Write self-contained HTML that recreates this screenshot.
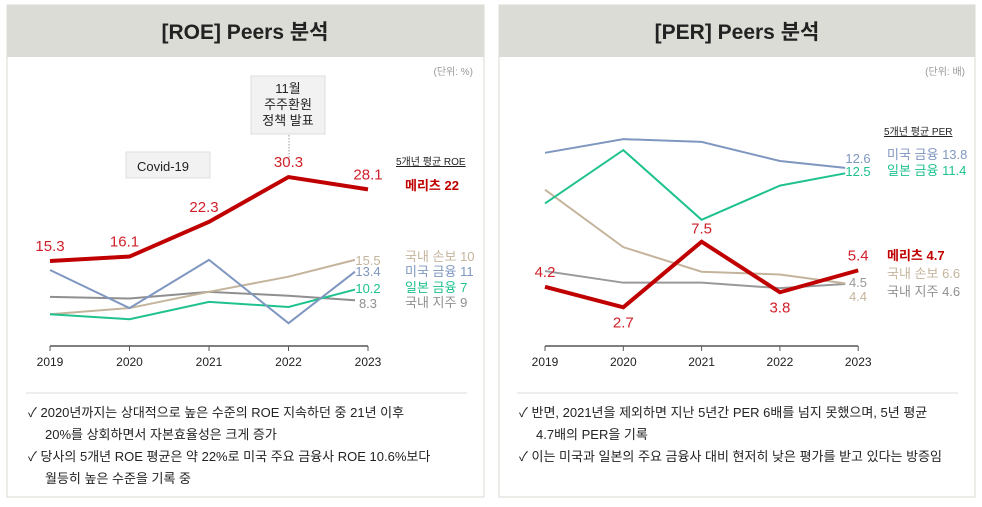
<!DOCTYPE html>
<html><head><meta charset="utf-8"><style>
body{margin:0;background:#fff;width:982px;height:502px;overflow:hidden;font-family:"Liberation Sans","Noto Sans CJK KR",sans-serif}
svg text{font-family:"Liberation Sans","Noto Sans CJK KR",sans-serif}
</style></head><body>
<svg id="c" width="982" height="502" viewBox="0 0 982 502" xmlns="http://www.w3.org/2000/svg">
<g>
<rect x="7" y="5" width="477" height="492" fill="#fff" stroke="#d8d8d2"/>
<rect x="7" y="5" width="477" height="52" fill="#dcdcd6"/>
<text x="245" y="39" text-anchor="middle" font-size="21" font-weight="bold" fill="#222">[ROE] Peers 분석</text>
<text x="473" y="75" text-anchor="end" font-size="10" fill="#999">(단위: %)</text>
<rect x="251" y="76" width="74" height="58" fill="#f2f2f2" stroke="#ddd"/>
<text x="288" y="93" text-anchor="middle" font-size="13" fill="#222">11월</text>
<text x="288" y="109" text-anchor="middle" font-size="13" fill="#222">주주환원</text>
<text x="288" y="125" text-anchor="middle" font-size="13" fill="#222">정책 발표</text>
<line x1="289" y1="135" x2="289" y2="163" stroke="#999" stroke-dasharray="1.5,1.5"/>
<rect x="126" y="152" width="84" height="26" fill="#f2f2f2" stroke="#ddd"/>
<text x="163" y="171" text-anchor="middle" font-size="13" fill="#222">Covid-19</text>
<text x="396" y="165" font-size="10" fill="#222" text-decoration="underline">5개년 평균 ROE</text>
<g id="roe"></g>
<line x1="26" y1="393" x2="467" y2="393" stroke="#ddd"/>
<g font-size="13" fill="#222">
<text x="28" y="417">✓ 2020년까지는 상대적으로 높은 수준의 ROE 지속하던 중 21년 이후</text>
<text x="45" y="439">20%를 상회하면서 자본효율성은 크게 증가</text>
<text x="28" y="461">✓ 당사의 5개년 ROE 평균은 약 22%로 미국 주요 금융사 ROE 10.6%보다</text>
<text x="45" y="483">월등히 높은 수준을 기록 중</text>
</g>
</g>
<g>
<rect x="499" y="5" width="476" height="492" fill="#fff" stroke="#d8d8d2"/>
<rect x="499" y="5" width="476" height="52" fill="#dcdcd6"/>
<text x="737" y="39" text-anchor="middle" font-size="21" font-weight="bold" fill="#222">[PER] Peers 분석</text>
<text x="965" y="75" text-anchor="end" font-size="10" fill="#999">(단위: 배)</text>
<text x="884" y="135" font-size="10" fill="#222" text-decoration="underline">5개년 평균 PER</text>
<g id="per"></g>
<line x1="517" y1="393" x2="958" y2="393" stroke="#ddd"/>
<g font-size="13" fill="#222">
<text x="519" y="417">✓ 반면, 2021년을 제외하면 지난 5년간 PER 6배를 넘지 못했으며, 5년 평균</text>
<text x="536" y="439">4.7배의 PER을 기록</text>
<text x="519" y="461">✓ 이는 미국과 일본의 주요 금융사 대비 현저히 낮은 평가를 받고 있다는 방증임</text>
</g>
</g>
</svg>
<script>
const years=["2019","2020","2021","2022","2023"];
// ROE
const roeMeritz=[15.3,16.1,22.3,30.3,28.1];
const roeKrIns=[5.8,6.9,9.8,12.5,15.5];
const roeUs=[13.7,6.9,15.5,4.2,13.4];
const roeJp=[5.8,4.9,8.0,7.1,10.2];
const roeKrHold=[8.9,8.6,9.8,9.1,8.3];
const roeLegend=["메리츠 22","국내 손보 10","미국 금융 11","일본 금융 7","국내 지주 9"];
// PER
const perMeritz=[4.2,2.7,7.5,3.8,5.4];
const perUs=[14.0,15.0,14.8,13.4,12.9];
const perJp=[10.3,14.2,9.1,11.6,12.5];
const perKrIns=[11.3,7.1,5.3,5.1,4.45];
const perKrHold=[5.35,4.5,4.5,4.1,4.4];
const perEndLabels=["5.4","12.6","12.5","4.4","4.5"];
const perLegend=["메리츠 4.7","미국 금융 13.8","일본 금융 11.4","국내 손보 6.6","국내 지주 4.6"];
const NS="http://www.w3.org/2000/svg";
function mk(p,t,a,txt){const e=document.createElementNS(NS,t);for(const k in a)e.setAttribute(k,a[k]);if(txt!==undefined)e.textContent=txt;p.appendChild(e);return e;}
const RED="#c00000",BLUE="#7f97c0",GREEN="#1fc28f",BEIGE="#c4b49c",GRAY="#8f8f8f";
function chart(g,x0,dx,y0,k,series,base){
  const X=i=>x0+i*dx, Y=v=>y0-v*k;
  const ax=mk(g,'line',{x1:X(0),x2:X(4),y1:base,y2:base,stroke:'#555','stroke-width':1.5});
  
  
  years.forEach((y,i)=>{
    const t=mk(g,'line',{x1:X(i),x2:X(i),y1:base,y2:base+5,stroke:'#555'});
    
    
    const l=mk(g,'text',{x:X(i),y:base+20,'text-anchor':'middle','font-size':12,fill:'#222'},y);
    
    
  });
  series.forEach(s=>{
    const xs=i=>(s.w<3&&i===4)?X(i)-13:X(i);
    const p=mk(g,'polyline',{points:s.v.map((v,i)=>xs(i)+','+Y(v)).join(' '),fill:'none',stroke:s.c,'stroke-width':s.w});
    
    
  });
  return {X,Y};
}
// ROE chart
(function(){
  const g=document.getElementById('roe');
  const s=[{v:roeKrHold,c:GRAY,w:2,n:'roe-kr-holding'},{v:roeKrIns,c:BEIGE,w:2,n:'roe-kr-insurance'},{v:roeJp,c:GREEN,w:2,n:'roe-jp-finance'},{v:roeUs,c:BLUE,w:2,n:'roe-us-finance'},{v:roeMeritz,c:RED,w:4,n:'roe-meritz'}];
  const {X,Y}=chart(g,50,79.5,346.7,5.6,s,346);
  const offs=[[0,-10],[-5,-10],[-5,-10],[0,-10],[0,-10]];
  roeMeritz.forEach((v,i)=>{
    const t=mk(g,'text',{x:X(i)+offs[i][0],y:Y(v)+offs[i][1],'text-anchor':'middle','font-size':15,fill:'#d0202a'},v.toFixed(1));
    
    
  });
  const ends=[[roeKrIns,BEIGE,265],[roeUs,BLUE,276],[roeJp,GREEN,293],[roeKrHold,GRAY,308]];
  ends.forEach(e=>{const t=mk(g,'text',{x:368,y:e[2],'text-anchor':'middle','font-size':13,fill:e[1]},e[0][4].toFixed(1));
    
    });
  const lc=[RED,BEIGE,BLUE,GREEN,GRAY],ly=[190,261,276,292,307];
  roeLegend.forEach((n,i)=>{const t=mk(g,'text',{x:405,y:ly[i],'font-size':13,fill:lc[i],'font-weight':i==0?'bold':'normal'},n);
    
    });
})();
// PER chart
(function(){
  const g=document.getElementById('per');
  const s=[{v:perKrHold,c:"#999",w:2,n:'per-kr-holding'},{v:perKrIns,c:BEIGE,w:2,n:'per-kr-insurance'},{v:perUs,c:BLUE,w:2,n:'per-us-finance'},{v:perJp,c:GREEN,w:2,n:'per-jp-finance'},{v:perMeritz,c:RED,w:4,n:'per-meritz'}];
  const {X,Y}=chart(g,545,78.3,344.2,13.67,s,346);
  const offs=[[0,-10],[0,20],[0,-8],[0,20],[0,-10]];
  perMeritz.forEach((v,i)=>{
    const t=mk(g,'text',{x:X(i)+offs[i][0],y:Y(v)+offs[i][1],'text-anchor':'middle','font-size':15,fill:'#d0202a'},v.toFixed(1));
    
    
  });
  const ends=[[perEndLabels[1],BLUE,163],[perEndLabels[2],GREEN,176],[perEndLabels[4],"#999",287],[perEndLabels[3],BEIGE,301]];
  ends.forEach(e=>{const t=mk(g,'text',{x:858,y:e[2],'text-anchor':'middle','font-size':13,fill:e[1]},e[0]);
    
    });
  const lc=[RED,BLUE,GREEN,BEIGE,GRAY],ly=[260,159,175,278,296];
  perLegend.forEach((n,i)=>{const t=mk(g,'text',{x:887,y:ly[i],'font-size':13,fill:lc[i],'font-weight':i==0?'bold':'normal'},n);
    
    });
})();
</script>
</body></html>
